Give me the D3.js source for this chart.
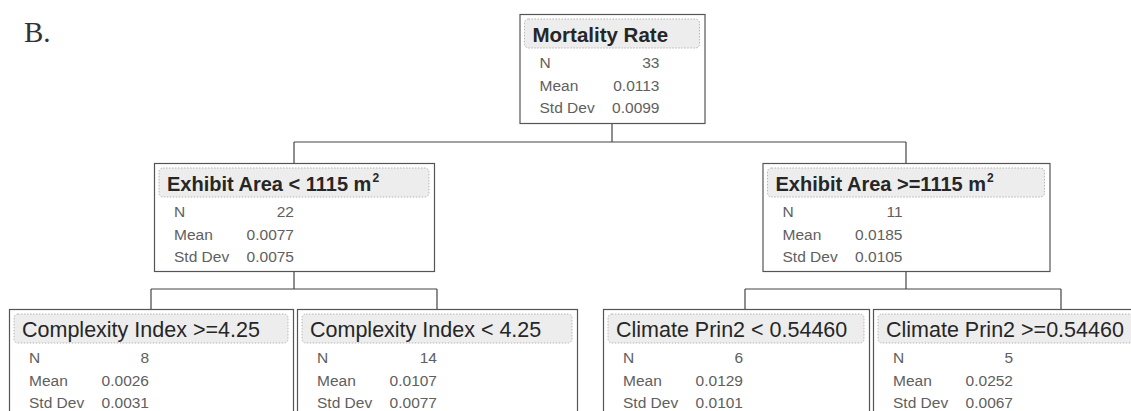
<!DOCTYPE html>
<html>
<head>
<meta charset="utf-8">
<script src="https://cdn.jsdelivr.net/npm/d3@7"></script>
<style>
  html, body { margin: 0; padding: 0; background: #fff; }
  svg { display: block; }
</style>
</head>
<body>
<div id="chart"></div>
<script>
// ---------------- data ----------------
const panelLabel = "B.";
const nodeIds    = ["root", "L", "R", "LL", "LR", "RL", "RR"];
const parentIds  = ["", "root", "root", "L", "L", "R", "R"];
const splitLabels = [
  "Mortality Rate",
  "Exhibit Area < 1115 m²",
  "Exhibit Area >=1115 m²",
  "Complexity Index >=4.25",
  "Complexity Index < 4.25",
  "Climate Prin2 < 0.54460",
  "Climate Prin2 >=0.54460"
];
const counts  = [33, 22, 11, 8, 14, 6, 5];
const means   = [0.0113, 0.0077, 0.0185, 0.0026, 0.0107, 0.0129, 0.0252];
const stdDevs = [0.0099, 0.0075, 0.0105, 0.0031, 0.0077, 0.0101, 0.0067];
const statLabels = ["N", "Mean", "Std Dev"];

// ---------------- layout config ----------------
const W = 1131, H = 411;
const boxWidth = { root: 185, L: 280, R: 287, LL: 284, LR: 280, RL: 266, RR: 376 };
// small layout nudges of a node's connector relative to the computed centre
const connectorNudge = { root: 12, R: 3, RL: 9 };
const levelTop = [14, 163, 309];
const boxHeight = [109, 108, 140];
const headerFont = [20.5, 20, 21.5];
const headerWeight = [700, 700, 400];
const leafStart = 9, siblingGap = 4, cousinGap = 26;

const rows = nodeIds.map((id, i) => ({
  id, parent: parentIds[i] || null, label: splitLabels[i],
  stats: [String(counts[i]), means[i].toFixed(4), stdDevs[i].toFixed(4)]
}));
const root = d3.stratify().id(d => d.id).parentId(d => d.parent)(rows);

// leaf packing
let cursor = leafStart, prevLeaf = null;
root.leaves().forEach(leaf => {
  if (prevLeaf) cursor += (prevLeaf.parent === leaf.parent ? siblingGap : cousinGap);
  leaf.x0 = cursor;
  leaf.w = boxWidth[leaf.id];
  leaf.cx = leaf.x0 + leaf.w / 2 + (connectorNudge[leaf.id] || 0);
  cursor += leaf.w;
  prevLeaf = leaf;
});
root.eachAfter(n => {
  if (n.children) {
    n.cx = d3.mean(n.children, c => c.cx) + (connectorNudge[n.id] || 0);
    n.w = boxWidth[n.id];
    n.x0 = n.cx - n.w / 2;
  }
  n.y0 = levelTop[n.depth];
  n.h = boxHeight[n.depth];
});

// ---------------- draw ----------------
const svg = d3.select("#chart").append("svg")
  .attr("width", W).attr("height", H);

svg.append("text")
  .attr("x", 24).attr("y", 42)
  .attr("font-family", "'Liberation Serif', 'DejaVu Serif', serif")
  .attr("font-size", 29).attr("fill", "#333")
  .text(panelLabel);

// connectors
const lineColor = "#444";
root.each(n => {
  if (!n.children) return;
  const bottom = n.y0 + n.h;
  const childTop = d3.min(n.children, c => c.y0);
  const midY = Math.round((bottom + childTop) / 2) - 1;
  const g = svg.append("g").attr("stroke", lineColor).attr("stroke-width", 1.2).attr("fill", "none");
  g.append("line").attr("x1", n.cx).attr("x2", n.cx).attr("y1", bottom).attr("y2", midY);
  g.append("line")
    .attr("x1", d3.min(n.children, c => c.cx)).attr("x2", d3.max(n.children, c => c.cx))
    .attr("y1", midY).attr("y2", midY);
  n.children.forEach(c => {
    g.append("line").attr("x1", c.cx).attr("x2", c.cx).attr("y1", midY).attr("y2", c.y0);
  });
});

// node boxes
const nodes = svg.selectAll("g.node").data(root.descendants())
  .join("g").attr("class", "node")
  .attr("transform", d => `translate(${d.x0},${d.y0})`);

nodes.append("rect")
  .attr("x", 0.5).attr("y", 0.5)
  .attr("width", d => d.w).attr("height", d => d.h)
  .attr("fill", "#fff").attr("stroke", "#555").attr("stroke-width", 1.2);

nodes.append("rect")
  .attr("x", 5).attr("y", 5)
  .attr("width", d => d.w - 10).attr("height", 29)
  .attr("rx", 4).attr("ry", 4)
  .attr("fill", "#ededed").attr("stroke", "#b5b5b5")
  .attr("stroke-width", 1).attr("stroke-dasharray", "1.5,1.5");

const header = nodes.append("text")
  .attr("x", 13).attr("y", 28)
  .attr("font-family", "'Liberation Sans', Arial, sans-serif")
  .attr("font-size", d => headerFont[d.depth])
  .attr("font-weight", d => headerWeight[d.depth])
  .attr("fill", "#262626");
header.each(function(d) {
  const parts = d.data.label.split("²");
  const t = d3.select(this);
  t.append("tspan").text(parts[0]);
  if (parts.length > 1) {
    t.append("tspan").attr("font-size", 12).attr("dy", -9).attr("dx", 1).text("2");
  }
});

const statFont = "'Liberation Sans', Arial, sans-serif";
const rowOffsets = [54, 77, 99];
nodes.each(function(d) {
  const g = d3.select(this);
  statLabels.forEach((lab, i) => {
    g.append("text")
      .attr("x", 20).attr("y", rowOffsets[i])
      .attr("font-family", statFont).attr("font-size", 15.5)
      .attr("fill", "#606060").text(lab);
    g.append("text")
      .attr("x", 140).attr("y", rowOffsets[i])
      .attr("text-anchor", "end")
      .attr("font-family", statFont).attr("font-size", 15.5)
      .attr("fill", "#606060").text(d.data.stats[i]);
  });
});
</script>
</body>
</html>
